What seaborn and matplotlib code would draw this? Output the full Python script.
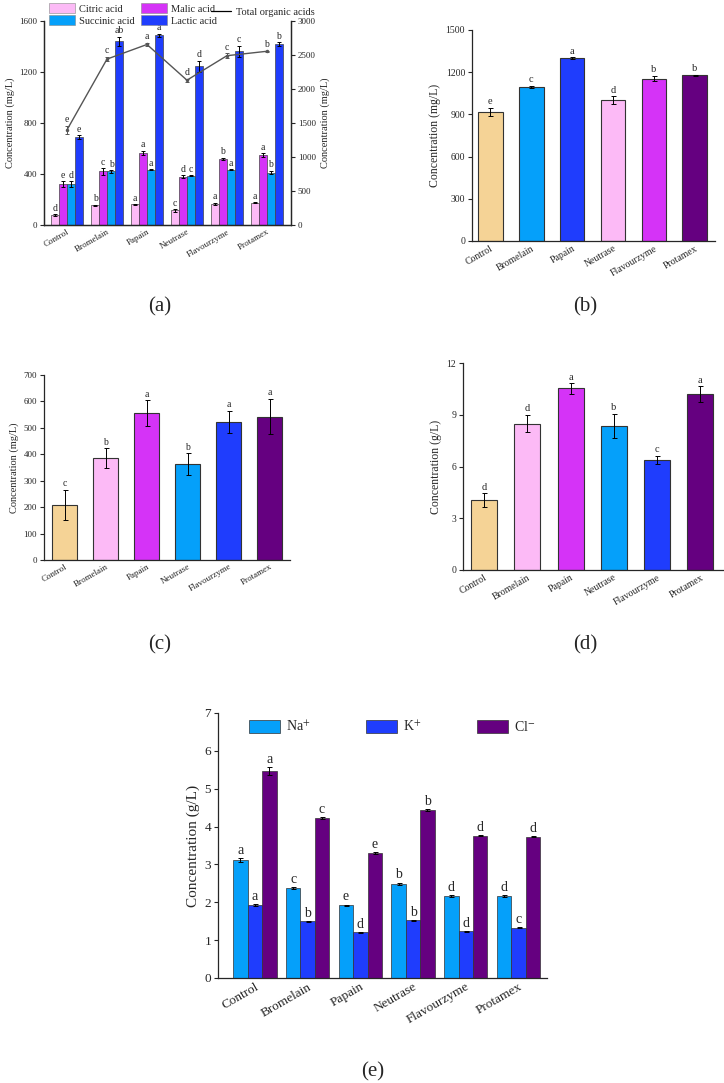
import matplotlib
matplotlib.use("Agg")
import matplotlib.pyplot as plt
import matplotlib.patches as mpatches
import matplotlib.lines as mlines
import numpy as np
import pandas as pd
import seaborn as sns

enzymes = ["Control", "Bromelain", "Papain", "Neutrase", "Flavourzyme", "Protamex"]

# (a) organic acids (mg/L)
acids = ["Citric acid", "Malic acid", "Succinic acid", "Lactic acid"]
citric = [78, 155, 162, 115, 168, 173]
citric_err = [8, 4, 4, 10, 8, 4]
malic = [320, 420, 565, 378, 520, 547]
malic_err = [25, 28, 18, 12, 8, 15]
succinic = [320, 420, 435, 388, 435, 412]
succinic_err = [25, 8, 4, 5, 5, 15]
lactic = [690, 1440, 1488, 1245, 1362, 1420]
lactic_err = [14, 38, 12, 45, 45, 14]
citric_sig = ["d", "b", "a", "c", "a", "a"]
malic_sig = ["e", "c", "a", "d", "b", "a"]
succinic_sig = ["d", "b", "a", "c", "a", "b"]
lactic_sig = ["e", "ab", "a", "d", "c", "b"]
total_acids = [1400, 2440, 2655, 2130, 2490, 2555]
total_err = [60, 35, 25, 20, 35, 10]
total_sig = ["e", "c", "a", "d", "c", "b"]

# (b) mg/L
b_vals = [918, 1095, 1300, 1000, 1155, 1177]
b_err = [30, 6, 6, 28, 18, 6]
b_sig = ["e", "c", "a", "d", "b", "b"]

# (c) mg/L
c_vals = [208, 385, 557, 362, 522, 543]
c_err = [58, 38, 48, 42, 43, 68]
c_sig = ["c", "b", "a", "b", "a", "a"]

# (d) g/L
d_vals = [4.05, 8.48, 10.53, 8.35, 6.38, 10.2]
d_err = [0.4, 0.5, 0.3, 0.7, 0.25, 0.45]
d_sig = ["d", "d", "a", "b", "c", "a"]

# (e) ions g/L
ions = ["Na$^{+}$", "K$^{+}$", "Cl$^{-}$"]
na = [3.12, 2.37, 1.92, 2.49, 2.16, 2.17]
na_err = [0.05, 0.02, 0.02, 0.03, 0.03, 0.02]
k = [1.92, 1.50, 1.21, 1.52, 1.23, 1.33]
k_err = [0.03, 0.01, 0.01, 0.01, 0.01, 0.01]
cl = [5.47, 4.22, 3.30, 4.44, 3.76, 3.73]
cl_err = [0.10, 0.03, 0.03, 0.03, 0.02, 0.02]
na_sig = ["a", "c", "e", "b", "d", "d"]
k_sig = ["a", "b", "d", "b", "d", "c"]
cl_sig = ["a", "c", "e", "b", "d", "d"]

tan = "#F5D396"
light_blue = "#05A0FA"
blue = "#1F3DFD"
light_pink = "#FCBAF6"
magenta = "#D533F7"
purple = "#650080"

sns.set_style("ticks")
plt.rcParams["font.family"] = ["Liberation Serif", "DejaVu Serif"]
plt.rcParams["mathtext.fontset"] = "stix"
plt.rcParams["axes.linewidth"] = 0.9

fig = plt.figure(figsize=(7.24, 10.83), dpi=100)


def style_axis(ax, tick_fs, ylabel, label_fs):
    ax.tick_params(axis="y", direction="out", length=3, width=0.8, labelsize=tick_fs, pad=2)
    ax.tick_params(axis="x", direction="in", length=3, width=0.8, labelsize=tick_fs, pad=2)
    plt.setp(ax.get_xticklabels(), rotation=30, ha="right", rotation_mode="anchor")
    ax.set_xlabel("")
    ax.set_ylabel(ylabel, fontsize=label_fs, labelpad=3)
    sns.despine(ax=ax)


def add_errors(ax, containers, errs, sigs, offset, fs, capsize=1.8):
    # match each bar to its category through its drawn position
    for cont, err, sig in zip(containers, errs, sigs):
        for bar in cont:
            cx = bar.get_x() + bar.get_width() / 2
            i = int(round(cx))
            top = bar.get_height()
            ax.errorbar(cx, top, yerr=err[i], fmt="none", ecolor="black",
                        elinewidth=0.7, capsize=capsize, capthick=0.7, zorder=4)
            ax.text(cx, top + err[i] + offset, sig[i], ha="center", va="bottom",
                    fontsize=fs, zorder=5)


def single_panel(rect, vals, errs, sigs, colors, ylim, yticks, xlim, ylabel,
                 tick_fs, label_fs, sig_fs):
    ax = fig.add_axes(rect)
    sns.barplot(x=enzymes, y=vals, hue=enzymes, palette=colors, legend=False,
                width=0.6, saturation=1, edgecolor="#333333", linewidth=0.8, ax=ax)
    add_errors(ax, ax.containers, [errs] * len(ax.containers),
               [sigs] * len(ax.containers), (ylim[1] - ylim[0]) * 0.008, sig_fs)
    ax.set_ylim(*ylim)
    ax.set_yticks(yticks)
    ax.set_xlim(*xlim)
    style_axis(ax, tick_fs, ylabel, label_fs)
    return ax


# ---- (a) ----
ax_a = fig.add_axes([0.0608, 0.7922, 0.341, 0.1884])
df_a = pd.DataFrame({
    "Enzyme": enzymes * 4,
    "Acid": np.repeat(acids, len(enzymes)),
    "Value": citric + malic + succinic + lactic,
})
acid_colors = [light_pink, magenta, light_blue, blue]
sns.barplot(data=df_a, x="Enzyme", y="Value", hue="Acid", hue_order=acids,
            palette=acid_colors, width=0.8, saturation=1, edgecolor="#444444",
            linewidth=0.5, errorbar=None, legend=False, ax=ax_a)
add_errors(ax_a, ax_a.containers,
           [citric_err, malic_err, succinic_err, lactic_err],
           [citric_sig, malic_sig, succinic_sig, lactic_sig], 10, 7, capsize=1.5)
ax_a.set_ylim(0, 1600)
ax_a.set_yticks([0, 400, 800, 1200, 1600])
ax_a.set_xlim(-0.575, 5.6)
style_axis(ax_a, 6.5, "Concentration (mg/L)", 7.5)
ax_a.spines["right"].set_visible(True)

ax_a2 = ax_a.twinx()
sns.lineplot(x=np.arange(len(enzymes)), y=total_acids, ax=ax_a2, color="#555555",
             linewidth=1.0, marker="o", markersize=2.5, markeredgewidth=0)
ax_a2.errorbar(np.arange(len(enzymes)), total_acids, yerr=total_err, fmt="none",
               ecolor="#555555", elinewidth=0.7, capsize=1.5, capthick=0.7)
for i, (v, e, s) in enumerate(zip(total_acids, total_err, total_sig)):
    ax_a2.text(i, v + e + 20, s, ha="center", va="bottom", fontsize=7)
ax_a2.set_ylim(0, 3000)
ax_a2.set_yticks(np.arange(0, 3001, 500))
ax_a2.set_ylabel("Concentration (mg/L)", fontsize=7.5, labelpad=3)
ax_a2.tick_params(axis="y", direction="out", length=3, width=0.8, labelsize=6.5, pad=2)
ax_a2.spines["top"].set_visible(False)

leg_handles = [mpatches.Patch(facecolor=c, edgecolor="#888888", linewidth=0.4, label=l)
               for c, l in zip([light_pink, light_blue, magenta, blue],
                               ["Citric acid", "Succinic acid", "Malic acid", "Lactic acid"])]
fig.legend(handles=leg_handles, ncol=2, loc="upper left",
           bbox_to_anchor=(0.062, 1.001), frameon=False, fontsize=7.5,
           handlelength=2.5, handleheight=1.1, handletextpad=0.4,
           columnspacing=0.6, labelspacing=0.15, borderaxespad=0)
fig.legend(handles=[mlines.Line2D([], [], color="black", linewidth=0.9,
                                  label="Total organic acids")],
           loc="upper left", bbox_to_anchor=(0.285, 0.997), frameon=False,
           fontsize=7.5, handlelength=2.0, handletextpad=0.4, borderaxespad=0)

# ---- (b) ----
single_panel([0.652, 0.7775, 0.3356, 0.1948], b_vals, b_err, b_sig,
             [tan, light_blue, blue, light_pink, magenta, purple],
             (0, 1500), [0, 300, 600, 900, 1200, 1500], (-0.45, 5.5),
             "Concentration (mg/L)", 7, 8.5, 7.5)

# ---- (c) ----
single_panel([0.0608, 0.4829, 0.340, 0.1708], c_vals, c_err, c_sig,
             [tan, light_pink, magenta, light_blue, blue, purple],
             (0, 700), np.arange(0, 701, 100), (-0.5, 5.5),
             "Concentration (mg/L)", 6.5, 7.5, 7)

# ---- (d) ----
single_panel([0.6395, 0.4737, 0.359, 0.1911], d_vals, d_err, d_sig,
             [tan, light_pink, magenta, light_blue, blue, purple],
             (0, 12), [0, 3, 6, 9, 12], (-0.485, 5.52),
             "Concentration (g/L)", 7, 8.5, 7.5)

# ---- (e) ----
ax_e = fig.add_axes([0.3011, 0.097, 0.4544, 0.2447])
df_e = pd.DataFrame({
    "Enzyme": enzymes * 3,
    "Ion": np.repeat(ions, len(enzymes)),
    "Value": na + k + cl,
})
sns.barplot(data=df_e, x="Enzyme", y="Value", hue="Ion", hue_order=ions,
            palette=[light_blue, blue, purple], width=0.82, saturation=1,
            edgecolor="#333333", linewidth=0.5, errorbar=None, ax=ax_e)
add_errors(ax_e, ax_e.containers, [na_err, k_err, cl_err],
           [na_sig, k_sig, cl_sig], 0.03, 10, capsize=1.8)
ax_e.set_ylim(0, 7)
ax_e.set_yticks(range(0, 8))
ax_e.set_xlim(-0.7, 5.54)
style_axis(ax_e, 9.5, "Concentration (g/L)", 11)
ax_e.legend(loc="center", bbox_to_anchor=(0.53, 0.947), ncol=3, frameon=False,
            fontsize=10, handlelength=2.2, handleheight=1.1, columnspacing=4.0,
            handletextpad=0.45, borderaxespad=0)

# panel labels
for x, y, s in [(160, 307, "(a)"), (585, 307, "(b)"), (160, 645, "(c)"),
                (585, 645, "(d)"), (373, 1072, "(e)")]:
    fig.text(x / 724, 1 - y / 1083, s, ha="center", va="center", fontsize=15)

fig.savefig("out.png", dpi=100)
